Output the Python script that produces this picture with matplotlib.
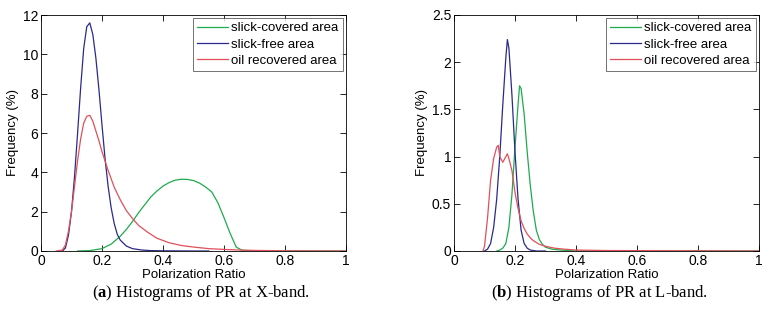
import numpy as np
import matplotlib
matplotlib.use('Agg')
import matplotlib.pyplot as plt

plt.rcParams['font.family'] = ['Liberation Sans', 'DejaVu Sans']
plt.rcParams['mathtext.fontset'] = 'custom'
plt.rcParams['mathtext.rm'] = 'Liberation Serif'
plt.rcParams['mathtext.bf'] = 'Liberation Serif:bold'

# X-band histograms (Polarization Ratio, Frequency %)
x_cov_x = [0.12, 0.16, 0.20, 0.23, 0.26, 0.28, 0.30, 0.32, 0.34, 0.36, 0.38, 0.40,
           0.42, 0.44, 0.46, 0.48, 0.50, 0.52, 0.54, 0.56, 0.58, 0.60, 0.62, 0.64,
           0.66, 0.70, 0.80, 1.00]
x_cov_y = [0.0, 0.02, 0.12, 0.35, 0.75, 1.10, 1.50, 1.95, 2.35, 2.75, 3.05, 3.30,
           3.48, 3.60, 3.65, 3.64, 3.58, 3.45, 3.25, 3.00, 2.45, 1.70, 0.90, 0.20,
           0.03, 0.01, 0.0, 0.0]

x_free_x = [0.07, 0.08, 0.09, 0.10, 0.11, 0.12, 0.13, 0.14, 0.15, 0.16, 0.17, 0.18,
            0.19, 0.20, 0.21, 0.22, 0.23, 0.24, 0.25, 0.26, 0.28, 0.30, 0.33, 0.36,
            0.40, 0.50, 0.55]
x_free_y = [0.0, 0.15, 0.8, 2.0, 3.8, 6.0, 8.3, 10.3, 11.4, 11.6, 11.0, 9.8,
            8.2, 6.4, 4.7, 3.3, 2.2, 1.4, 0.85, 0.55, 0.25, 0.12, 0.05, 0.02,
            0.01, 0.0, 0.0]

x_oil_x = [0.05, 0.07, 0.08, 0.09, 0.10, 0.11, 0.12, 0.13, 0.14, 0.15, 0.16, 0.17,
           0.18, 0.19, 0.20, 0.22, 0.24, 0.26, 0.28, 0.30, 0.32, 0.35, 0.38, 0.42,
           0.46, 0.50, 0.55, 0.60, 0.65, 0.70, 0.80, 1.00]
x_oil_y = [0.0, 0.05, 0.3, 1.0, 2.0, 3.3, 4.6, 5.7, 6.5, 6.85, 6.9, 6.6,
           6.1, 5.6, 5.05, 4.1, 3.25, 2.6, 2.05, 1.65, 1.3, 0.95, 0.65, 0.42,
           0.28, 0.20, 0.12, 0.08, 0.05, 0.03, 0.01, 0.0]

# L-band histograms
l_cov_x = [0.14, 0.15, 0.16, 0.17, 0.18, 0.19, 0.20, 0.21, 0.215, 0.22, 0.23, 0.24,
           0.25, 0.26, 0.27, 0.28, 0.29, 0.30, 0.32, 0.35, 0.40, 0.50, 1.00]
l_cov_y = [0.0, 0.01, 0.03, 0.08, 0.25, 0.60, 1.10, 1.55, 1.75, 1.72, 1.45, 1.05,
           0.70, 0.42, 0.22, 0.12, 0.07, 0.04, 0.02, 0.01, 0.0, 0.0, 0.0]

l_free_x = [0.10, 0.11, 0.12, 0.13, 0.14, 0.15, 0.16, 0.17, 0.175, 0.18, 0.19, 0.20,
            0.21, 0.22, 0.23, 0.24, 0.25, 0.27, 0.30]
l_free_y = [0.0, 0.02, 0.08, 0.25, 0.55, 1.00, 1.55, 2.05, 2.24, 2.15, 1.65, 1.05,
            0.55, 0.22, 0.08, 0.03, 0.01, 0.0, 0.0]

l_oil_x = [0.095, 0.10, 0.11, 0.12, 0.13, 0.14, 0.145, 0.15, 0.16, 0.17, 0.175, 0.18,
           0.19, 0.20, 0.21, 0.22, 0.23, 0.24, 0.25, 0.26, 0.28, 0.30, 0.33, 0.36,
           0.40, 0.50, 0.70, 1.00]
l_oil_y = [0.0, 0.05, 0.35, 0.75, 0.98, 1.10, 1.12, 1.00, 0.94, 1.00, 1.03, 0.98,
           0.85, 0.62, 0.45, 0.32, 0.24, 0.18, 0.14, 0.11, 0.07, 0.05, 0.03, 0.02,
           0.01, 0.005, 0.003, 0.0]

labels = ['slick-covered area', 'slick-free area', 'oil recovered area']
colours = ['#1faa4e', '#2a2a8a', '#e0505a']

panels = [
    ([(x_cov_x, x_cov_y), (x_free_x, x_free_y), (x_oil_x, x_oil_y)],
     [0, 12], [0, 2, 4, 6, 8, 10, 12], 'a', 'Histograms of PR at X-band.'),
    ([(l_cov_x, l_cov_y), (l_free_x, l_free_y), (l_oil_x, l_oil_y)],
     [0, 2.5], [0, 0.5, 1, 1.5, 2, 2.5], 'b', 'Histograms of PR at L-band.'),
]

fig = plt.figure(figsize=(7.68, 3.11), dpi=100)
lefts = [41 / 768, 454 / 768]
centres = [201 / 768, 600 / 768]

for left, cx, (series, ylim, yticks, tag, caption) in zip(lefts, centres, panels):
    ax = fig.add_axes([left, 60 / 311, 305 / 768, 236 / 311])
    for (xs, ys), c, lab in zip(series, colours, labels):
        ax.plot(xs, ys, color=c, lw=0.9, label=lab)
    ax.set_xlim(0, 1)
    ax.set_ylim(*ylim)
    ax.set_xticks([0, 0.2, 0.4, 0.6, 0.8, 1])
    ax.set_xticklabels(['0', '0.2', '0.4', '0.6', '0.8', '1'])
    ax.set_yticks(yticks)
    ax.set_yticklabels(['%g' % t for t in yticks])
    ax.tick_params(direction='in', top=True, right=True, labelsize=10,
                   length=4, width=0.6, pad=2)
    for sp in ax.spines.values():
        sp.set_linewidth(0.6)
    ax.set_xlabel('Polarization Ratio', fontsize=9.5, labelpad=1)
    ax.set_ylabel('Frequency (%)', fontsize=9.5, labelpad=3)
    leg = ax.legend(loc='upper right', fontsize=9.5, frameon=True, fancybox=False,
                    handlelength=2.3, handletextpad=0.3, borderpad=0.3,
                    labelspacing=0.3, borderaxespad=0.25)
    leg.get_frame().set_edgecolor('#333333')
    leg.get_frame().set_linewidth(0.6)
    fig.text(cx, 18 / 311, r'($\mathbf{%s}$) %s' % (tag, caption), ha='center',
             va='center', fontsize=12, family='Liberation Serif')

fig.savefig('out.png', dpi=100)
